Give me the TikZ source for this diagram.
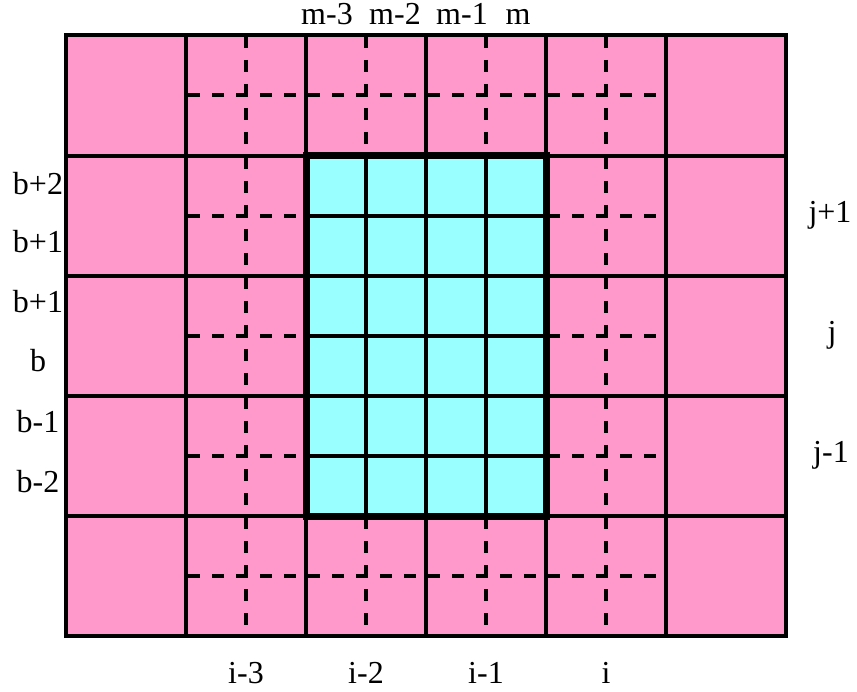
\documentclass[tikz,border=0pt]{standalone}
\usepackage{fontspec}
\setmainfont{Liberation Serif}
\newfontfamily\lblfont{Liberation Serif}
\definecolor{pinkc}{HTML}{FF99CC}
\definecolor{cyanc}{HTML}{99FFFF}
\tikzset{
  thinline/.style={line width=3.7pt},
  dashline/.style={line width=3.5pt, dash pattern=on 12pt off 12pt},
  lbl/.style={font=\lblfont\fontsize{32}{36}\selectfont, anchor=base, inner sep=0pt},
}
\begin{document}
\begin{tikzpicture}[x=1pt,y=-1pt]
\useasboundingbox (0,0) rectangle (857,692);
% pink background
\fill[pinkc] (66,35) rectangle (786,636);
% cyan region
\fill[cyanc] (306,156) rectangle (546,516);
% dashed crosses in top and bottom rows
\foreach \x in {246,366,486,606} {
  \draw[dashline] (\x,36) -- (\x,156);
  \draw[dashline] (\x,517) -- (\x,636);
}
\draw[dashline] (188,95) -- (666,95);
\draw[dashline] (188,576) -- (666,576);
% dashed crosses in side columns
\foreach \y in {216,336,456} {
  \draw[dashline] (188,\y) -- (306,\y);
  \draw[dashline] (548,\y) -- (666,\y);
}
\foreach \x in {246,606} {
  \draw[dashline] (\x,157) -- (\x,516);
}
% solid grid
\foreach \x in {186,306,426,546,666} {
  \draw[thinline] (\x,35) -- (\x,636);
}
\foreach \y in {156,276,396,516} {
  \draw[thinline] (66,\y) -- (786,\y);
}
% cyan inner grid
\foreach \x in {366,486} {
  \draw[thinline] (\x,156) -- (\x,516);
}
\foreach \y in {216,336,456} {
  \draw[thinline] (306,\y) -- (546,\y);
}
% cyan border
\draw[line width=7pt] (306,156) rectangle (546,516);
% outer border
\draw[line width=4pt] (66,35) rectangle (786,636);
% top labels
\node[lbl] (m3) at (327,25) {m-3};
\node[lbl] (m2) at (395,25) {m-2};
\node[lbl] (m1) at (462,25) {m-1};
\node[lbl] (m0) at (518,25) {m};
% left labels
\node[lbl] (bp2) at (38,195) {b+2};
\node[lbl] (bp1a) at (38,253) {b+1};
\node[lbl] (bp1b) at (38,313) {b+1};
\node[lbl] (b0) at (38,372) {b};
\node[lbl] (bm1) at (38,433) {b-1};
\node[lbl] (bm2) at (38,493) {b-2};
% right labels
\node[lbl] (jp1) at (830,223) {j+1};
\node[lbl] (j0) at (832,343) {j};
\node[lbl] (jm1) at (831,463) {j-1};
% bottom labels
\node[lbl] (im3) at (246,683) {i-3};
\node[lbl] (im2) at (366,683) {i-2};
\node[lbl] (im1) at (486,683) {i-1};
\node[lbl] (i0) at (606,683) {i};
\end{tikzpicture}
\end{document}
